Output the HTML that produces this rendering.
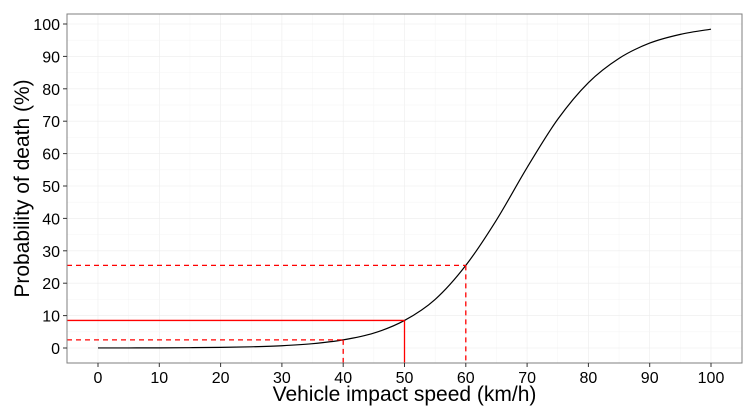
<!DOCTYPE html>
<html><head><meta charset="utf-8"><style>
body{margin:0;background:#fff}
svg text{font-family:"Liberation Sans",sans-serif}
</style></head><body>
<svg id="chart" width="749" height="410" xmlns="http://www.w3.org/2000/svg"></svg>
<script>
const speeds=[0,5,10,15,20,25,30,35,40,45,50,55,60,65,70,75,80,85,90,95,100];
const probs=[0.014,0.027,0.05,0.1,0.19,0.37,0.7,1.33,2.5,4.6,8.5,15,25.5,39.5,55.7,70.6,81.9,89.4,94.1,96.8,98.4];
const markSpeeds=[40,50,60];
const markProbs=[2.5,8.5,25.5];
const markDash=[true,false,true];
const xTicks=[0,10,20,30,40,50,60,70,80,90,100];
const yTicks=[0,10,20,30,40,50,60,70,80,90,100];

const NS="http://www.w3.org/2000/svg";
const svg=document.getElementById('chart');
const L=67,R=742,T=14,B=363;
const X=v=>98+v*(711-98)/100;
const Y=v=>348-v*(348-24)/100;
function mk(tag,attrs,parent){const e=document.createElementNS(NS,tag);for(const k in attrs)e.setAttribute(k,attrs[k]);(parent||svg).appendChild(e);return e;}
for(let i=0;i<xTicks.length;i++){
  const v=xTicks[i];
  let g=mk('line',{x1:X(v),x2:X(v),y1:T,y2:B,stroke:'#ececec','stroke-width':0.6});
  
  if(i<xTicks.length-1){let m=mk('line',{x1:X(v+5),x2:X(v+5),y1:T,y2:B,stroke:'#f4f4f4','stroke-width':0.5});
  }
}
for(let i=0;i<yTicks.length;i++){
  const v=yTicks[i];
  let g=mk('line',{x1:L,x2:R,y1:Y(v),y2:Y(v),stroke:'#ececec','stroke-width':0.6});
  
  if(i<yTicks.length-1){let m=mk('line',{x1:L,x2:R,y1:Y(v+5),y2:Y(v+5),stroke:'#f4f4f4','stroke-width':0.5});
  }
}
const pts=speeds.map((s,i)=>[X(s),Y(probs[i])]);
let d='M'+pts[0][0]+','+pts[0][1];
for(let i=0;i<pts.length-1;i++){
  const p0=pts[Math.max(0,i-1)],p1=pts[i],p2=pts[i+1],p3=pts[Math.min(pts.length-1,i+2)];
  d+=' C'+(p1[0]+(p2[0]-p0[0])/6)+','+(p1[1]+(p2[1]-p0[1])/6)+' '+(p2[0]-(p3[0]-p1[0])/6)+','+(p2[1]-(p3[1]-p1[1])/6)+' '+p2[0]+','+p2[1];
}
const c=mk('path',{d:d,fill:'none',stroke:'#000','stroke-width':1.2});

for(let i=0;i<markSpeeds.length;i++){
  const a={stroke:'#ff0000','stroke-width':1.3};if(markDash[i])a['stroke-dasharray']='5,4';
  let h=mk('line',Object.assign({x1:L,x2:X(markSpeeds[i]),y1:Y(markProbs[i]),y2:Y(markProbs[i])},a));
  
  let v=mk('line',Object.assign({x1:X(markSpeeds[i]),x2:X(markSpeeds[i]),y1:Y(markProbs[i]),y2:B},a));
  
}
const br=mk('rect',{x:L,y:T,width:R-L,height:B-T,fill:'none',stroke:'#7f7f7f','stroke-width':1});

for(const v of xTicks){
  let t=mk('line',{x1:X(v),x2:X(v),y1:B,y2:B+4,stroke:'#333'});
  
  let l=mk('text',{x:X(v),y:B+20,'text-anchor':'middle','font-size':16,fill:'#000'});l.textContent=v;
  
}
for(const v of yTicks){
  let t=mk('line',{x1:L-4,x2:L,y1:Y(v),y2:Y(v),stroke:'#333'});
  
  let l=mk('text',{x:L-7,y:Y(v)+6,'text-anchor':'end','font-size':16,fill:'#000'});l.textContent=v;
  
}
let xt=mk('text',{x:(L+R)/2,y:401,'text-anchor':'middle','font-size':21,fill:'#000'});xt.textContent='Vehicle impact speed (km/h)';

let yt=mk('text',{x:0,y:0,'text-anchor':'middle','font-size':21,fill:'#000',transform:'translate(29,'+((T+B)/2)+') rotate(-90)'});yt.textContent='Probability of death (%)';

</script>
</body></html>
